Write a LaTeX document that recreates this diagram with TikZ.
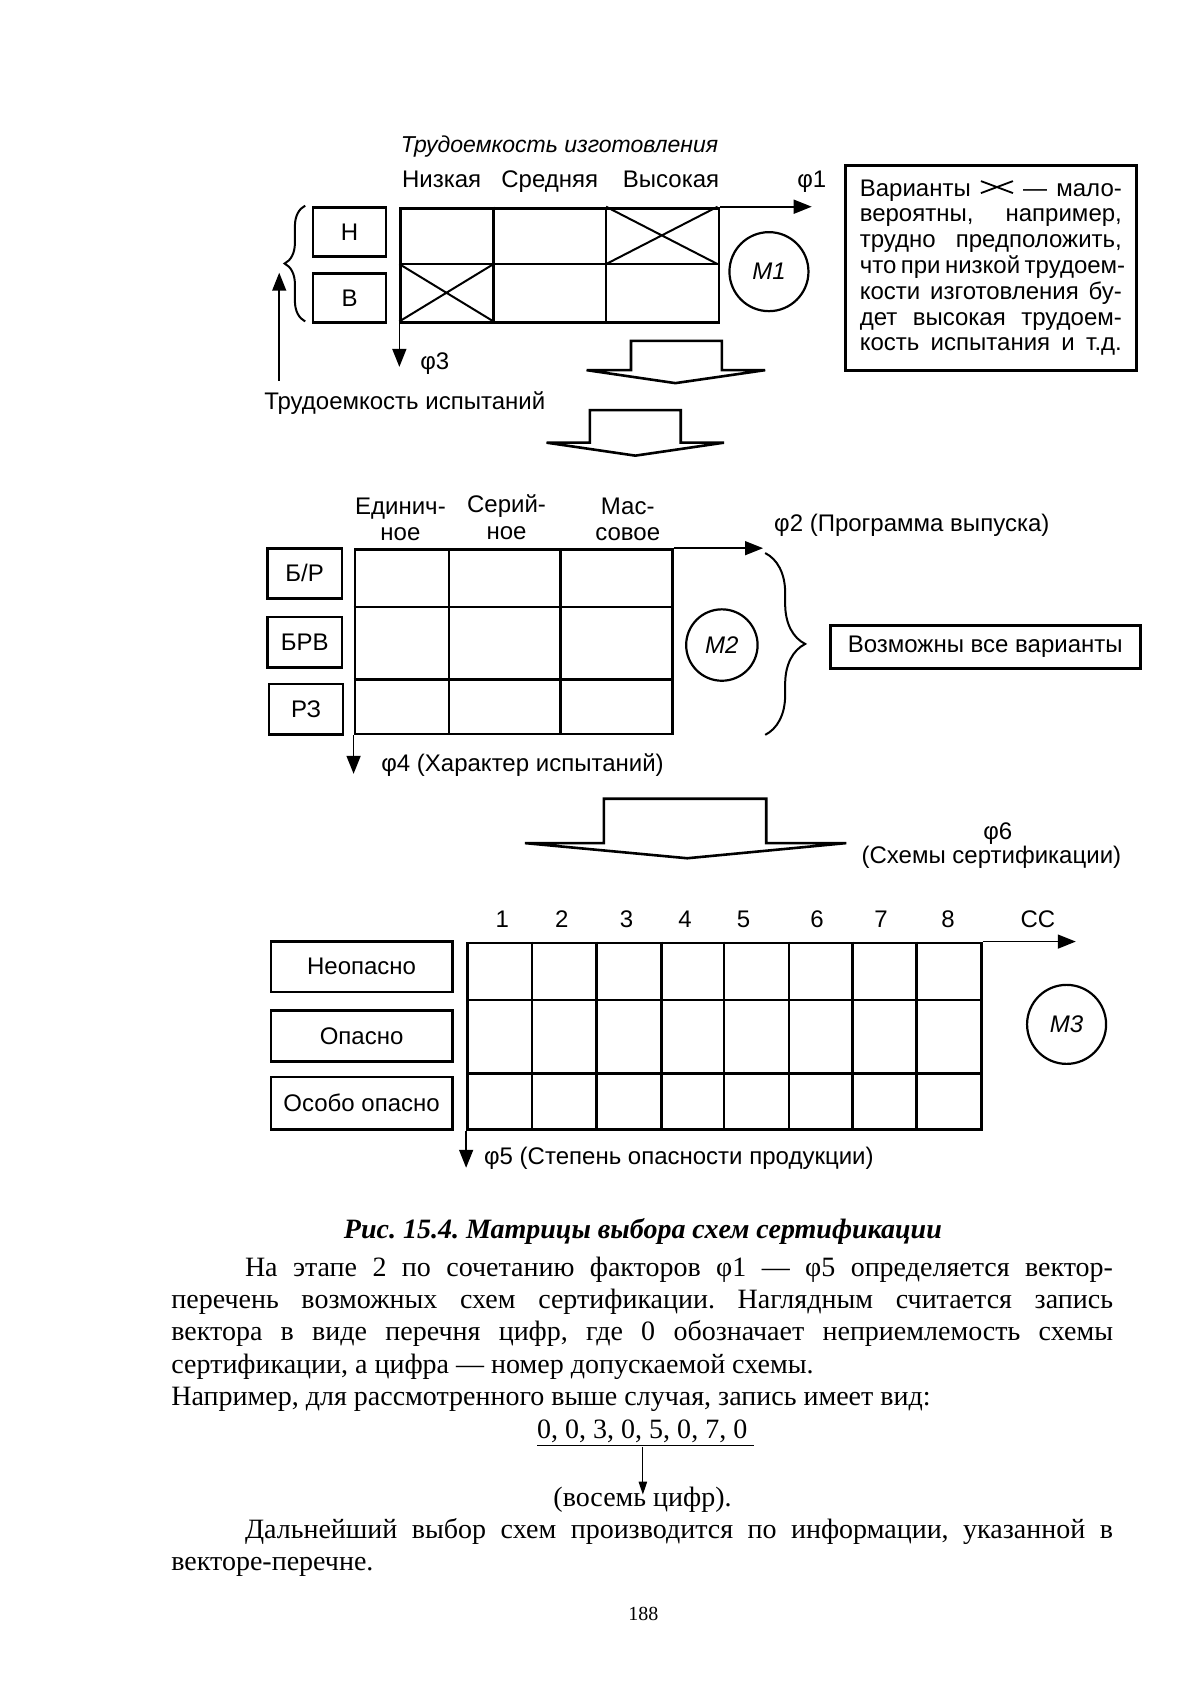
\documentclass[tikz,border=0pt]{standalone}
\usepackage{fontspec}
\setmainfont{Liberation Serif}
\newfontfamily\diagsans{Liberation Sans}
\usetikzlibrary{arrows.meta,positioning,decorations.pathreplacing}
\frenchspacing

\newcommand{\xsign}{\tikz[baseline=0pt]\draw[line width=0.9pt] (0pt,1.5pt) -- (16pt,7.5pt) (0pt,7.5pt) -- (16pt,1.5pt);}
\newcommand{\sline}[2]{\makebox[#1][s]{#2}}

\begin{document}
\begin{tikzpicture}[
  x=0.541pt, y=-0.541pt,
  lbl/.style={font=\diagsans\fontsize{12}{13.2}\selectfont, inner sep=0pt},
  ilbl/.style={font=\diagsans\itshape\fontsize{11.5}{13.2}\selectfont, inner sep=0pt},
  catbox/.style={draw, line width=1.4pt, inner sep=0pt, font=\diagsans\fontsize{12}{13.2}\selectfont},
  mcirc/.style={draw, circle, line width=1.1pt, inner sep=0pt, font=\diagsans\itshape\fontsize{12}{13.2}\selectfont},
  mtx/.style={draw, line width=1.4pt, inner sep=0pt, anchor=north west},
  cellline/.style={line width=1.3pt},
  xline/.style={line width=1pt},
  axis/.style={-{Triangle[length=9pt,width=7pt]}, line width=0.8pt},
  blockarr/.style={line width=1.3pt, line join=miter},
  body/.style={font=\fontsize{14}{16.1}\selectfont, inner sep=0pt, anchor=base west},
  brc/.style={decorate, line width=1pt}
]
\useasboundingbox (0,0) rectangle (1109,1568);

% ---- matrix M1
\node[ilbl, anchor=base] (t1) at (517,141) {Трудоемкость\ изготовления};
\node[lbl, anchor=base] (h11) at (408,173.5) {Низкая};
\node[lbl, anchor=base] (h12) at (508,173.5) {Средняя};
\node[lbl, anchor=base] (h13) at (620,173.5) {Высокая};
\node[mtx, minimum width=159.1pt, minimum height=57.3pt] (g1) at (369,191) {};
\draw[cellline] (456,191) -- (456,297) (560,191) -- (560,297) (369,244) -- (663,244);
\draw[xline] (560,191) -- (663,244) (560,244) -- (663,191);
\draw[xline] (369,244) -- (456,297) (369,297) -- (456,244);
\coordinate (f1end) at (750,191);
\coordinate (f3end) at (369,339);
\draw[axis] (g1.north east) -- (f1end);
\draw[axis] (g1.south west) -- (f3end);
\node[lbl, anchor=base] (f1) at (750,173) {φ1};
\node[lbl, anchor=base west] (f3) at (388,341) {φ3};
\node[catbox, minimum width=36.5pt, minimum height=24.3pt] (bn) at (323,214.5) {Н};
\node[catbox, minimum width=36.5pt, minimum height=24.3pt] (bv) at (323,275.5) {В};
\draw[brc, decoration={brace, amplitude=10.3pt}] (282,297) -- (282,190);
\node[lbl, anchor=base] (isp) at (374,378) {Трудоемкость испытаний};
\coordinate (isptop) at (258,352);
\coordinate (brtip) at (258,252);
\draw[axis] (isptop) -- (brtip);
\node[mcirc, minimum size=39.5pt] (c1) at (710.5,251) {M1};
\node[draw, line width=1.4pt, inner sep=0pt, minimum width=145.5pt, minimum height=102.5pt,
      align=left, font=\diagsans\fontsize{12}{12.9}\selectfont] (note) at (915.5,247.3) {%
  \sline{131pt}{Варианты \xsign{} — мало-}\\
  \sline{131pt}{вероятны, например,}\\
  \sline{131pt}{трудно предположить,}\\
  \sline{131pt}{что при низкой трудоем-}\\
  \sline{131pt}{кости изготовления бу-}\\
  \sline{131pt}{дет высокая трудоем-}\\
  \sline{131pt}{кость испытания и т.д.}};

% ---- block arrows
\draw[blockarr] (583,315) -- (667,315) -- (667,342) -- (707,342) -- (624,354) -- (542,342) -- (583,342) -- cycle;
\draw[blockarr] (545,379) -- (629,379) -- (629,409) -- (669,409) -- (587,421) -- (505,409) -- (545,409) -- cycle;

% ---- matrix M2
\node[lbl, align=center] (h21) at (370,480) {Единич-\\ное};
\node[lbl, align=center] (h22) at (468,478) {Серий-\\ное};
\node[lbl, align=center] (h23) at (580,480) {Мас-\\совое};
\node[mtx, minimum width=158.7pt, minimum height=92.2pt] (g2) at (326.7,506.5) {};
\draw[cellline] (415,506.5) -- (415,677) (518,506.5) -- (518,677) (326.7,561) -- (620,561) (326.7,628) -- (620,628);
\coordinate (f2end) at (705,506.5);
\coordinate (f4end) at (326.7,715);
\draw[axis] (g2.north east) -- (f2end);
\draw[axis] (g2.south west) -- (f4end);
\node[lbl, anchor=west] (f2) at (715,485) {φ2 (Программа выпуска)};
\node[lbl, anchor=west] (f4) at (352,707) {φ4 (Характер испытаний)};
\node[catbox, minimum width=37.3pt, minimum height=24.9pt] (bbr) at (281.5,529.7) {Б/Р};
\node[catbox, minimum width=37.3pt, minimum height=25.3pt] (bbrv) at (281.5,593.4) {БРВ};
\node[catbox, minimum width=37pt, minimum height=25.4pt] (brz) at (282.8,655.5) {РЗ};
\node[mcirc, minimum size=35.7pt] (c2) at (667,596) {M2};
\draw[brc, decoration={brace, amplitude=20pt}] (707,511) -- (707,679);
\node[catbox, minimum width=155pt, minimum height=21.6pt] (all) at (910.3,597.6) {Возможны все варианты};

\draw[blockarr] (558,738) -- (708,738) -- (708,779) -- (782,779) -- (635,793) -- (485,779) -- (558,779) -- cycle;

% ---- matrix M3
\node[lbl, anchor=base] (f6a) at (922,776) {φ6};
\node[lbl, anchor=base] (f6b) at (916,798) {(Схемы сертификации)};
\foreach \n/\xx in {1/464,2/519,3/579,4/633,5/687,6/755,7/814,8/876}
  \node[lbl, anchor=base] (n\n) at (\xx,857) {\n};
\node[lbl, anchor=base] (cc) at (959,857) {СС};
\node[mtx, minimum width=256.8pt, minimum height=93.4pt] (g3) at (430.7,870) {};
\foreach \xx in {491.7,551,611,669,729,787.5,847}
  \draw[cellline] (\xx,870) -- (\xx,1042.7);
\draw[cellline] (430.7,924) -- (905.3,924) (430.7,992) -- (905.3,992);
\coordinate (ccend) at (994,870);
\coordinate (f5end) at (430.7,1079);
\draw[axis] (g3.north east) -- (ccend);
\draw[axis] (g3.south west) -- (f5end);
\node[lbl, anchor=west] (f5) at (447,1070) {φ5 (Степень опасности продукции)};
\node[catbox, minimum width=90.5pt, minimum height=25.2pt] (bno) at (334.1,893.3) {Неопасно};
\node[catbox, minimum width=90.5pt, minimum height=25.7pt] (bo) at (334.1,957.3) {Опасно};
\node[catbox, minimum width=90.5pt, minimum height=26.3pt] (boo) at (334.1,1019.4) {Особо опасно};
\node[mcirc, minimum size=39.5pt] (c3) at (985.5,946.5) {M3};

% ---- caption and text
\node[font=\bfseries\itshape\fontsize{14}{16.1}\selectfont, inner sep=0pt, anchor=base] (cap) at (594,1144) {Рис. 15.4. Матрицы выбора схем сертификации};
\node[body] (p1) at (158,1179.5) {\sline{470.7pt}{\hspace*{36.8pt}На этапе 2 по сочетанию факторов φ1 — φ5 определяется вектор-}};
\node[body] (p2) at (158,1209.3) {\sline{470.7pt}{перечень возможных схем сертификации. Наглядным считается запись}};
\node[body] (p3) at (158,1239) {\sline{470.7pt}{вектора в виде перечня цифр, где 0 обозначает неприемлемость схемы}};
\node[body] (p4) at (158,1268.8) {сертификации, а цифра — номер допускаемой схемы.};
\node[body] (p5) at (158,1298.5) {Например, для рассмотренного выше случая, запись имеет вид:};
\node[body] (vec) at (496,1329) {\underline{0, 0, 3, 0, 5, 0, 7, 0\ }};
\node[body] (eight) at (511,1392) {(восемь цифр).};
\coordinate (vecdown) at (594,1337);
\coordinate (eighttop) at (594,1381);
\draw[-{Triangle[length=6.5pt,width=4.2pt]}, line width=0.6pt] (vecdown) -- (eighttop);
\node[body] (p6) at (158,1421.5) {\sline{470.7pt}{\hspace*{36.8pt}Дальнейший выбор схем производится по информации, указанной в}};
\node[body] (p7) at (158,1451.5) {векторе-перечне.};
\node[font=\fontsize{10}{12}\selectfont, inner sep=0pt, anchor=base] (pg) at (594.5,1497) {188};
\end{tikzpicture}
\end{document}
